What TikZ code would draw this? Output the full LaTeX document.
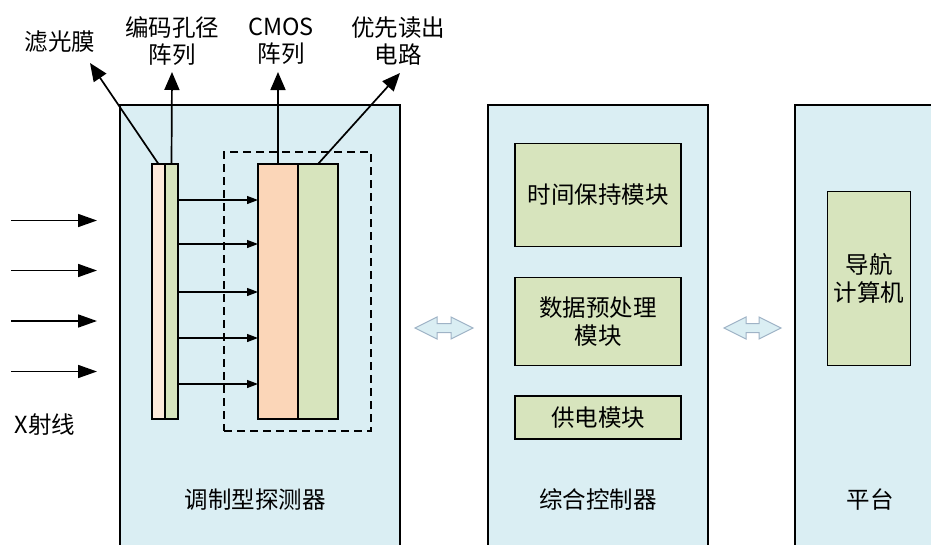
\documentclass[tikz,border=0pt]{standalone}
\usepackage{fontspec}
\setmainfont{Noto Sans CJK SC}
\usetikzlibrary{arrows.meta,calc}
\definecolor{bgblue}{HTML}{DAEEF3}
\definecolor{modgreen}{HTML}{D7E4BD}
\definecolor{peach}{HTML}{FBD6B8}
\definecolor{lightpeach}{HTML}{FDEADB}
\definecolor{dblue}{HTML}{9FB3C6}
\begin{document}
\begin{tikzpicture}[x=1pt,y=-1pt,
  every node/.style={font=\fontsize{23.5}{27.5}\selectfont, inner sep=0pt, outer sep=0pt},
  bigbox/.style={draw=black, line width=1.4pt, fill=bgblue, minimum height=455pt},
  strip/.style={draw=black, line width=1.3pt, minimum width=13pt, minimum height=255pt},
  sensor/.style={draw=black, line width=1.3pt, minimum width=40pt, minimum height=255pt},
  modbox/.style={draw=black, line width=1.4pt, fill=modgreen, align=center},
  lbl/.style={align=center},
  bigarrow/.style={line width=1.7pt, -{Triangle[length=19pt,width=13pt]}},
  toparrow/.style={line width=1.7pt, -{Triangle[length=18pt,width=15pt]}},
  smallarrow/.style={line width=1.2pt, -{Triangle[length=11pt,width=8pt]}},
  dbl/.style={draw=dblue, line width=1pt, fill=bgblue}
]
\useasboundingbox (0,0) rectangle (931,544);
\clip (0,0) rectangle (931,544);

% big boxes
\node[bigbox, minimum width=280pt] (det) at (260,332.5) {};
\node[bigbox, minimum width=220pt] (ctrl) at (598,332.5) {};
\node[bigbox, minimum width=150pt] (plat) at (870,332.5) {};

\node (detlbl) at (255,500) {调制型探测器};
\node (ctrllbl) at (598,500) {综合控制器};
\node (platlbl) at (870,500) {平台};

% dashed box
\node[draw=black, line width=1.3pt, dash pattern=on 8pt off 5pt, minimum width=147pt, minimum height=279pt] (dash) at (297.5,291.5) {};

% strips
\node[strip, fill=lightpeach] (filter) at (158.5,291.5) {};
\node[strip, fill=modgreen] (coded) at (171.5,291.5) {};
\node[sensor, fill=peach] (cmos) at (278,291.5) {};
\node[sensor, fill=modgreen] (readout) at (318,291.5) {};

% internal arrows
\foreach \d in {-91.5,-47.5,0.5,46.5,92.5}
  \draw[smallarrow] ($(coded.east)+(0,\d)$) -- ($(cmos.west)+(0,\d)$);

% top labels
\node[lbl] (l1) at (60,42) {滤光膜};
\node[lbl] (l2) at (172,41) {编码孔径\\阵列};
\node[lbl] (l3) at (281,41) {CMOS\\阵列};
\node[lbl] (l4) at (398,41) {优先读出\\电路};
\coordinate (t1) at (90,63);
\coordinate (t2) at (172,72);
\coordinate (t3) at (278,72);
\coordinate (t4) at (400,73);
\draw[toparrow] (filter.north) -- (t1);
\draw[toparrow] (coded.north) -- (t2);
\draw[toparrow] (cmos.north) -- (t3);
\draw[toparrow] (readout.north) -- (t4);

% X-ray arrows
\foreach \y [count=\i] in {220.5,270.5,321,371.5}{
  \coordinate (xs\i) at (11,\y);
  \coordinate (xe\i) at (97,\y);
  \draw[bigarrow] (xs\i) -- (xe\i);
}
\node (xray) at (45,425) {X射线};

% controller modules
\node[modbox, minimum width=166pt, minimum height=103pt] (time) at (598,195) {时间保持模块};
\node[modbox, minimum width=166pt, minimum height=88pt] (pre) at (598,321.5) {数据预处理\\模块};
\node[modbox, minimum width=166pt, minimum height=43pt] (pow) at (598,417.5) {供电模块};

% platform module
\node[modbox, minimum width=83pt, minimum height=174pt] (nav) at (869,278.5) {导航\\计算机};

% double arrows
\foreach \xa/\xb in {415/473, 724/781}{
  \draw[dbl] (\xa,328) -- (\xa+22,317) -- (\xa+22,323.5) -- (\xb-22,323.5) -- (\xb-22,317)
     -- (\xb,328) -- (\xb-22,339) -- (\xb-22,332.5) -- (\xa+22,332.5) -- (\xa+22,339) -- cycle;
}
\end{tikzpicture}
\end{document}
